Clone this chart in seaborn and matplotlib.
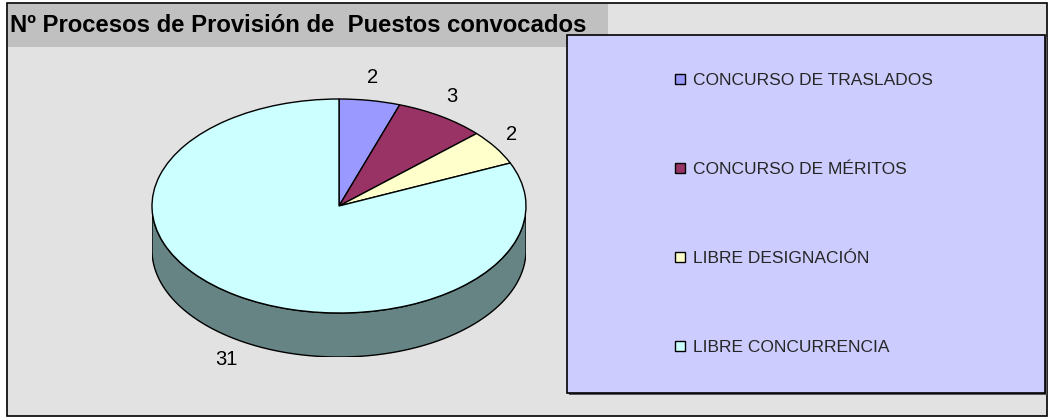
import numpy as np
import matplotlib
matplotlib.use("Agg")
import matplotlib.pyplot as plt
from matplotlib.patches import Rectangle, Polygon, Patch
import seaborn as sns

# Data
categories = ["CONCURSO DE TRASLADOS", "CONCURSO DE MÉRITOS",
              "LIBRE DESIGNACIÓN", "LIBRE CONCURRENCIA"]
values = [2, 3, 2, 31]
slice_colors = ["#9999ff", "#993366", "#ffffcc", "#ccffff"]
side_color = "#668484"
title = "Nº Procesos de Provisión de  Puestos convocados"

sns.set_theme(style="white")
plt.rcParams["font.family"] = ["Liberation Sans", "DejaVu Sans"]

W, H = 1054, 417
fig = plt.figure(figsize=(W / 100, H / 100), dpi=100)
fig.patch.set_facecolor("white")


def frac_rect(x0, y0, x1, y1):
    """Pixel box (top-left origin) -> figure fraction (left, bottom, w, h)."""
    return x0 / W, 1 - y1 / H, (x1 - x0) / W, (y1 - y0) / H


# Chart area background and frame
l, b, w, h = frac_rect(7, 3, 1047, 416)
fig.patches.append(Rectangle((l, b), w, h, transform=fig.transFigure,
                             facecolor="#e2e2e2", edgecolor="black", lw=1.2, zorder=0))
# Title band
l, b, w, h = frac_rect(8, 4, 608, 47)
fig.patches.append(Rectangle((l, b), w, h, transform=fig.transFigure,
                             facecolor="#c0c0c0", edgecolor="none", zorder=1))
fig.text(10 / W, 1 - 26 / H, title, fontsize=17.2, fontweight="bold",
         ha="left", va="center", color="black", zorder=2)

# Legend panel (with a small drop shadow), drawn over the title band
l, b, w, h = frac_rect(569, 37, 1047, 395)
fig.patches.append(Rectangle((l, b), w, h, transform=fig.transFigure,
                             facecolor="#555555", edgecolor="none", zorder=2.4))
l, b, w, h = frac_rect(567, 35, 1045, 393)
fig.patches.append(Rectangle((l, b), w, h, transform=fig.transFigure,
                             facecolor="#ccccff", edgecolor="black", lw=1.2, zorder=2.5))

# Pie axes: ellipse-shaped top with a visible side wall
depth = 44 / 107
l, b, w, h = frac_rect(152, 99, 526, 357)
ax = fig.add_axes([l, b, w, h])
ax.set_zorder(3)
ax.patch.set_alpha(0)

theta = np.linspace(np.pi, 2 * np.pi, 200)
top = np.column_stack([np.cos(theta), np.sin(theta)])
bottom = np.column_stack([np.cos(theta[::-1]), np.sin(theta[::-1]) - depth])
ax.add_patch(Polygon(np.vstack([top, bottom]), closed=True,
                     facecolor=side_color, edgecolor="black", lw=1.0, zorder=1))

wedges, _ = ax.pie(values, colors=slice_colors, startangle=90, counterclock=False,
                   wedgeprops=dict(edgecolor="black", linewidth=1.0))
for wdg in wedges:
    wdg.set_zorder(2)

ax.set_aspect("auto")
ax.set_xlim(-1, 1)
ax.set_ylim(-1 - depth, 1)
ax.axis("off")

# Value labels around the slices
total = sum(values)
cum = np.cumsum(values)
for v, c in zip(values, cum):
    ang = np.deg2rad(90 - 360 * (c - v / 2) / total)
    x, y = 1.1 * np.cos(ang), 1.22 * np.sin(ang)
    if y < 0:
        y -= depth
    ax.text(x, y, str(v), ha="center", va="center", fontsize=14.5,
            color="black", clip_on=False)

# Legend
handles = [Patch(facecolor=c, edgecolor="black", lw=1.0) for c in slice_colors]
leg = fig.legend(handles, categories, loc="upper left",
                 bbox_to_anchor=(675 / W, 1 - 73 / H), frameon=False,
                 fontsize=12.5, labelspacing=4.27, handlelength=0.55, handleheight=0.55,
                 handletextpad=0.5, borderpad=0, borderaxespad=0)
leg.set_zorder(4)

fig.savefig("out.png", dpi=100)
